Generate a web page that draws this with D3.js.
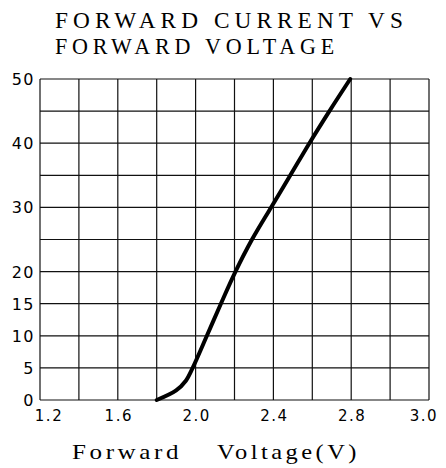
<!DOCTYPE html>
<html>
<head>
<meta charset="utf-8">
<script src="https://cdn.jsdelivr.net/npm/d3@7"></script>
<style>
  body { margin: 0; background: #fff; }
</style>
</head>
<body>
<div class="canvas"></div>
<script>
// values
const voltage = [1.8, 1.9, 1.95, 1.985, 2.058, 2.13, 2.205, 2.29, 2.388, 2.487, 2.585, 2.688, 2.795];
const current = [0, 1.5, 3.0, 5, 10, 15, 20, 25, 30, 35, 40, 45, 50];

const xTicks = [1.2, 1.6, 2.0, 2.4, 2.8, 3.2];
const xTickLabels = ['1.2', '1.6', '2.0', '2.4', '2.8', '3.0'];
const yTicks = [0, 5, 10, 15, 20, 30, 40, 50];
const titleLines = ['FORWARD CURRENT VS', 'FORWARD VOLTAGE'];
const xTitle = ['Forward', 'Voltage(V)'];

const margin = { top: 79, right: 17, bottom: 68, left: 40 };
const graphWidth = 446 - margin.left - margin.right;
const graphHeight = 468 - margin.top - margin.bottom;

const svg = d3.select('.canvas')
    .append('svg')
    .attr('width', 446)
    .attr('height', 468)

const graph = svg.append('g')
    .attr('transform', `translate(${margin.left}, ${margin.top})`)

// scales
const x = d3.scaleLinear().domain([1.2, 3.2]).range([0, graphWidth]);
const y = d3.scaleLinear().domain([0, 50]).range([graphHeight, 0]);

// grid
graph.append('g')
    .selectAll('line')
    .data(d3.range(1.2, 3.2001, 0.2))
    .enter().append('line')
    .attr('x1', d => x(d)).attr('x2', d => x(d))
    .attr('y1', 0).attr('y2', graphHeight)
    .attr('stroke', '#111')
    .attr('stroke-width', 1.2);

graph.append('g')
    .selectAll('line')
    .data(d3.range(0, 50.001, 5))
    .enter().append('line')
    .attr('x1', 0).attr('x2', graphWidth)
    .attr('y1', d => y(d)).attr('y2', d => y(d))
    .attr('stroke', '#111')
    .attr('stroke-width', 1.2);

// tick labels
graph.append('g')
    .selectAll('text')
    .data(xTicks)
    .enter().append('text')
    .attr('x', (d, i) => x(d) + (i == 0 ? 9 : i == xTicks.length - 1 ? -5 : 1))
    .attr('y', graphHeight + 21)
    .attr('text-anchor', 'middle')
    .style('font-family', 'DejaVu Sans, sans-serif')
    .style('font-size', '15px')
    .style('letter-spacing', '1.5px')
    .text((d, i) => xTickLabels[i]);

graph.append('g')
    .selectAll('text')
    .data(yTicks)
    .enter().append('text')
    .attr('x', -5)
    .attr('y', d => y(d))
    .attr('dy', '0.38em')
    .attr('text-anchor', 'end')
    .style('font-family', 'DejaVu Sans, sans-serif')
    .style('font-size', '16px')
    .style('letter-spacing', '1.5px')
    .text(d => d);

// curve
const line = d3.line()
    .x((d, i) => x(voltage[i]))
    .y((d, i) => y(current[i]))
    .curve(d3.curveCatmullRom.alpha(0.5));

graph.append('path')
    .datum(voltage)
    .attr('fill', 'none')
    .attr('stroke', '#000')
    .attr('stroke-width', 4)
    .attr('stroke-linecap', 'round')
    .attr('d', line);

// titles
const titleWidths = [353, 284];
svg.append('g')
    .selectAll('text')
    .data(titleLines)
    .enter().append('text')
    .attr('x', 55)
    .attr('y', (d, i) => 28 + i * 26)
    .attr('textLength', (d, i) => titleWidths[i])
    .attr('lengthAdjust', 'spacingAndGlyphs')
    .style('font-family', 'Liberation Serif, serif')
    .style('font-size', '23px')
    .style('letter-spacing', '5px')
    .text(d => d);

// x axis title, two words set apart like the original
const xTitleX = [72, 217];
const xTitleW = [110, 143];
svg.append('g')
    .selectAll('text')
    .data(xTitle)
    .enter().append('text')
    .attr('x', (d, i) => xTitleX[i])
    .attr('y', 459)
    .attr('textLength', (d, i) => xTitleW[i])
    .attr('lengthAdjust', 'spacingAndGlyphs')
    .style('font-family', 'Liberation Serif, serif')
    .style('font-size', '21px')
    .style('letter-spacing', '3px')
    .text(d => d);
</script>
</body>
</html>
